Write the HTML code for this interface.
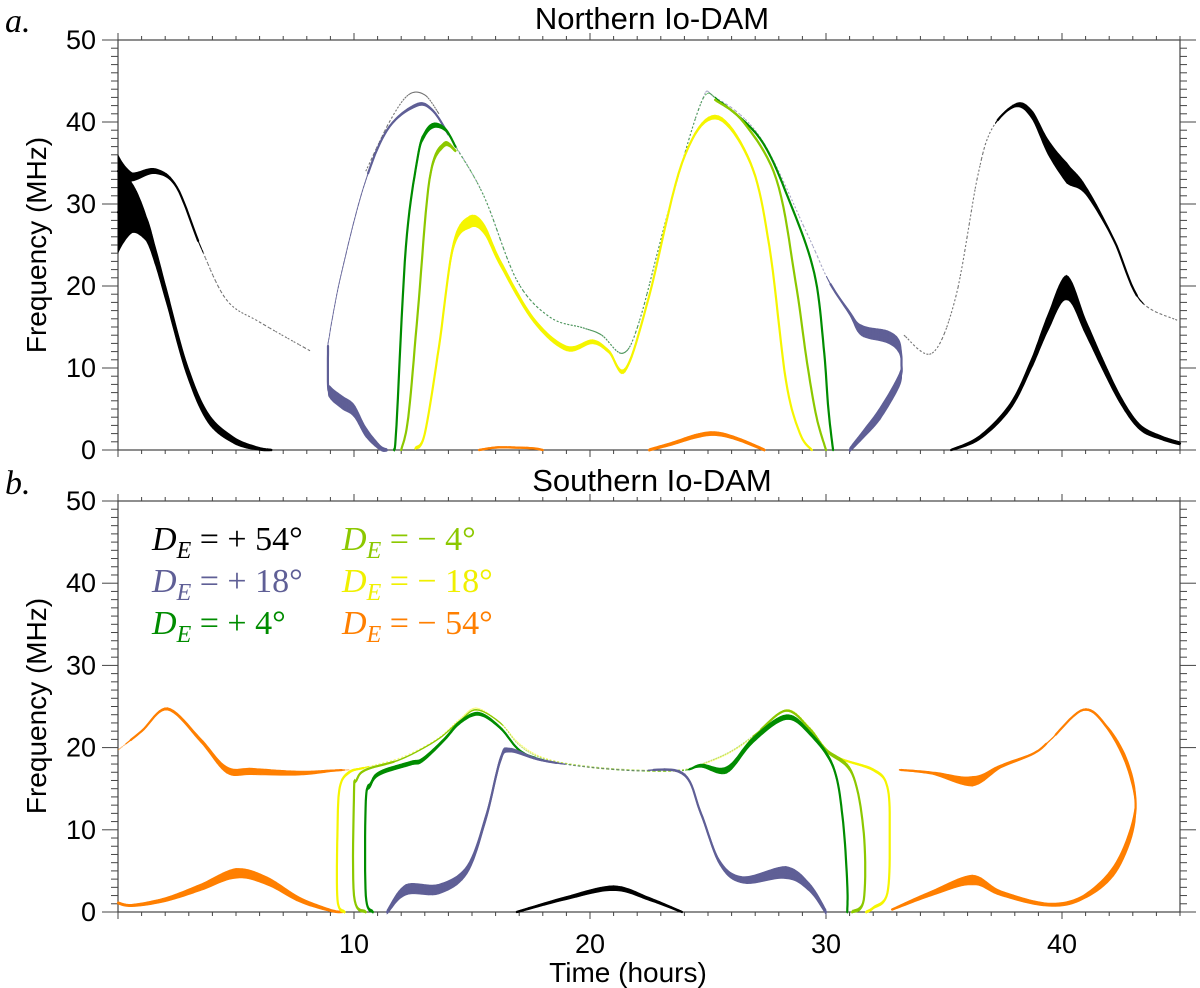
<!DOCTYPE html>
<html><head><meta charset="utf-8"><style>
html,body{margin:0;padding:0;background:#fff;}
svg{display:block;}
text{font-family:"Liberation Sans",sans-serif;}
text.lg, .lg text{font-family:"Liberation Serif",serif;font-size:34px;}
</style></head><body>
<svg id="chart" width="1200" height="988" viewBox="0 0 1200 988" xmlns="http://www.w3.org/2000/svg">
<g id="frames"></g>
<g id="marks"></g>
<g id="labels">
<text x="652" y="29" font-size="31" text-anchor="middle">Northern Io-DAM</text>
<text x="652" y="491" font-size="31" text-anchor="middle">Southern Io-DAM</text>
<text x="5" y="32" class="lg" font-style="italic">a.</text>
<text x="5" y="494" class="lg" font-style="italic">b.</text>
<text transform="translate(46,245) rotate(-90)" font-size="28" text-anchor="middle">Frequency (MHz)</text>
<text transform="translate(46,706) rotate(-90)" font-size="28" text-anchor="middle">Frequency (MHz)</text>
<text x="628" y="982" font-size="28" text-anchor="middle">Time (hours)</text>
</g>
<g id="legend" class="lg">
<text x="152" y="550" fill="#000"><tspan font-style="italic">D</tspan><tspan font-style="italic" font-size="24" dy="8">E</tspan><tspan dy="-8"> = + 54°</tspan></text>
<text x="152" y="592" fill="#5f5f96"><tspan font-style="italic">D</tspan><tspan font-style="italic" font-size="24" dy="8">E</tspan><tspan dy="-8"> = + 18°</tspan></text>
<text x="152" y="634" fill="#008c00"><tspan font-style="italic">D</tspan><tspan font-style="italic" font-size="24" dy="8">E</tspan><tspan dy="-8"> = + 4°</tspan></text>
<text x="342" y="550" fill="#8cc800"><tspan font-style="italic">D</tspan><tspan font-style="italic" font-size="24" dy="8">E</tspan><tspan dy="-8"> = − 4°</tspan></text>
<text x="342" y="592" fill="#f0f000"><tspan font-style="italic">D</tspan><tspan font-style="italic" font-size="24" dy="8">E</tspan><tspan dy="-8"> = − 18°</tspan></text>
<text x="342" y="634" fill="#ff7f00"><tspan font-style="italic">D</tspan><tspan font-style="italic" font-size="24" dy="8">E</tspan><tspan dy="-8"> = − 54°</tspan></text>
</g>
</svg>
<script>
// ---- axis setup ----
var xTicks = [10, 20, 30, 40];
var yTicks = [0, 10, 20, 30, 40, 50];
var xMin = 0, xMax = 45, yMin = 0, yMax = 50;

// ---- Northern (top) panel series: time (h), frequency (MHz), band width (MHz) ----
var nBlackUpT = [0, 0.6, 1.6, 2.5, 3.5, 4.6, 6.0, 8.2];
var nBlackUpF = [34, 33.3, 34, 32, 24.8, 18.3, 15.6, 12];
var nBlackUpW = [4, 1, 0.6, 0.3, 0.1, 0, 0, 0];
var nBlackLoT = [0, 0.6, 1.2, 1.6, 2.1, 2.9, 3.8, 4.9, 5.9, 6.5];
var nBlackLoF = [29, 29.5, 27, 23.5, 18.3, 10, 4, 1.2, 0.2, 0];
var nBlackLoW = [10, 6, 3, 2.2, 1.8, 1.5, 1.2, 0.8, 0.4, 0.2];
var nBlackDotT = [10.5, 11.5, 12.3, 13, 13.6];
var nBlackDotF = [34, 40, 43.3, 43.3, 41];
var nBlackDotW = [0, 0, 0, 0, 0];
var nBlackRT = [33.3, 34.5, 35.5, 36.4, 37.0, 38.0, 38.7, 39.4, 40.2, 41.0, 42.2, 43.3, 44.9];
var nBlackRF = [14, 11.8, 18.7, 33, 39, 42, 41, 37, 33.8, 31.7, 25.6, 18.3, 15.8];
var nBlackRW = [0, 0, 0, 0, 0, 0.4, 1, 1.8, 2.5, 1, 0.3, 0.1, 0];
var nBlackHumpT = [35.3, 36.5, 37.8, 38.7, 39.4, 40.2, 41.0, 41.7, 42.5, 43.3, 44.2, 45];
var nBlackHumpF = [0, 1.5, 5.3, 10.5, 15.5, 19.8, 15, 10.6, 6, 2.8, 1.5, 0.8];
var nBlackHumpW = [0.2, 0.5, 0.8, 1.2, 2, 3, 1.8, 1.4, 1, 0.7, 0.5, 0.4];
var nPurpleLoT = [8.9, 8.9, 9.0, 9.5, 10.0, 10.5, 11.1, 11.4];
var nPurpleLoF = [13, 8, 7, 5.8, 4.8, 2.2, 0.3, 0];
var nPurpleLoW = [0, 1, 1.5, 1.6, 1.5, 1.2, 0.6, 0.3];
var nPurpleT = [8.9, 9.4, 10.4, 11.4, 12.6, 13.3, 14.1, 15.5, 16.9, 18.3, 19.7, 20.5, 21.4, 22.1, 23.3, 24.7, 25.3, 27.2, 29.2, 30.1, 31.0, 31.5, 32.6, 33.1, 33.2, 33.1, 32.3, 31.6, 31.0];
var nPurpleF = [13, 20.7, 32, 39, 42, 41.5, 38, 31, 20.7, 16.2, 14.9, 14, 11.8, 15.8, 28.9, 42.3, 43, 38.2, 26.4, 20.7, 16.7, 14.6, 13.8, 12.6, 10.5, 8.5, 4.5, 2, 0];
var nPurpleW = [0.1, 0.1, 0.1, 0.2, 0.4, 0.3, 0.1, 0, 0, 0, 0, 0, 0, 0, 0, 0, 0, 0, 0, 0.1, 0.5, 1.3, 1.5, 1.6, 1.7, 1.6, 1.5, 1, 0.5];
var nGreenT = [11.7, 11.8, 12.2, 12.7, 13.0, 13.4, 13.9, 14.3];
var nGreenF = [0, 3, 24.8, 35.7, 38.5, 39.6, 39, 37];
var nGreenW = [0.3, 0.6, 0.8, 0.8, 0.7, 0.6, 0.4, 0.2];
var nGreenMidT = [14.3, 15.5, 16.9, 18.3, 19.7, 20.5, 21.4, 22.1, 23.3, 24.7, 25.3];
var nGreenMidF = [37, 31, 20.7, 16.2, 14.9, 14, 11.8, 15.8, 28.9, 42.3, 43];
var nGreenMidW = [0, 0, 0, 0, 0, 0, 0, 0, 0, 0, 0];
var nGreenRT = [25.3, 27.2, 28.5, 29.5, 29.9, 30.1, 30.3];
var nGreenRF = [43, 38, 30, 21.6, 12.6, 5, 0];
var nGreenRW = [0.1, 0.2, 0.3, 0.5, 0.6, 0.5, 0.3];
var nYgT = [12.0, 12.3, 12.7, 13.2, 13.8, 14.3];
var nYgF = [0, 4, 16.7, 33, 37.2, 36.5];
var nYgW = [0.2, 0.5, 0.8, 0.8, 0.6, 0.3];
var nYgRT = [25.3, 26.5, 27.9, 28.7, 29.2, 29.6, 30.0];
var nYgRF = [42.7, 40, 33, 20.7, 10.6, 4, 0];
var nYgRW = [0.2, 0.3, 0.4, 0.5, 0.5, 0.4, 0.2];
var nYellowT = [12.6, 13.0, 13.6, 14.2, 14.9, 15.5, 16.2, 17.6, 19.0, 20.1, 20.8, 21.5, 22.5, 23.9, 25.3, 26.8, 27.6, 28.3, 28.9, 29.4];
var nYellowF = [0.2, 2, 12.6, 24.8, 27.8, 27, 22.8, 15.9, 12.4, 13.2, 12, 9.8, 18.7, 35, 40.6, 35, 24.8, 8.5, 2, 0];
var nYellowW = [0.3, 0.5, 0.8, 1, 1.5, 1.2, 0.8, 0.6, 0.6, 0.5, 0.4, 0.5, 0.4, 0.3, 0.5, 0.5, 0.5, 0.4, 0.3, 0.2];
var nOrangeAT = [15.3, 16, 16.8, 17.6, 18];
var nOrangeAF = [0, 0.3, 0.3, 0.2, 0];
var nOrangeAW = [0.2, 0.2, 0.2, 0.2, 0.2];
var nOrangeBT = [22.5, 23.5, 24.5, 25.3, 26.2, 27.4];
var nOrangeBF = [0, 0.8, 1.7, 2, 1.4, 0];
var nOrangeBW = [0.3, 0.4, 0.5, 0.5, 0.4, 0.3];

// ---- Southern (bottom) panel series ----
var sOrangeAT = [0, 1, 2.1, 3.5, 4.6, 5.7, 7.7, 9.1, 9.8];
var sOrangeAF = [19.7, 22, 24.7, 20.9, 17.3, 17.1, 16.9, 17.2, 17.3];
var sOrangeAW = [0, 0.2, 0.3, 0.5, 0.8, 0.8, 0.5, 0.2, 0];
var sOrangeBT = [0, 0.6, 2, 3.5, 5, 6.3, 7.7, 9.0, 9.5];
var sOrangeBF = [1.1, 0.8, 1.5, 3, 4.7, 3.8, 1.5, 0.2, 0];
var sOrangeBW = [0.3, 0.3, 0.5, 0.8, 1.2, 1, 0.6, 0.3, 0.2];
var sOrangeCT = [32.8, 34.5, 36.2, 37.4, 39.4, 40.9, 42.3, 43.1, 42.8, 41.9, 40.9, 39.5, 38.8, 37.4, 36.2, 34.5, 33.1];
var sOrangeCF = [0.3, 2.3, 3.9, 2.3, 0.9, 1.8, 5.5, 12, 17.7, 22.5, 24.6, 20.9, 19.3, 17.7, 15.9, 16.9, 17.3];
var sOrangeCW = [0.2, 0.6, 1.2, 0.6, 0.4, 0.5, 1.3, 2, 1.2, 0.4, 0.2, 0.1, 0.2, 0.4, 1.2, 0.3, 0.1];
var sYellowT = [9.6, 9.3, 9.3, 9.4, 9.8, 10.5, 12, 13.5, 14.5, 15.2, 16.2, 17, 18, 19.7, 21.8, 23.9, 25, 26, 27, 28.3, 29.3, 30.3, 32.0, 32.6, 32.7, 32.6, 32.0, 31.7];
var sYellowF = [0, 1.5, 10, 15.2, 17, 17.6, 18.8, 21, 23.5, 24.8, 23, 20.5, 18.8, 17.7, 17.2, 17.2, 18.2, 19.5, 21.5, 24.6, 22.5, 19.1, 17.3, 15.2, 9.6, 2.3, 0.5, 0];
var sYellowW = [0.3, 0.4, 0.4, 0.4, 0.3, 0.1, 0, 0, 0, 0, 0, 0, 0, 0, 0, 0, 0, 0, 0, 0, 0, 0.1, 0.3, 0.4, 0.4, 0.4, 0.3, 0.3];
var sYgT = [10.5, 10.0, 10.0, 10.1, 10.5, 12, 13.5, 14.5, 15.2, 16.2, 17, 18, 19.7, 21.8, 23.9, 25, 26, 27, 28.3, 29.3, 30.0, 31.1, 31.6, 31.6, 31.1];
var sYgF = [0, 2, 14.5, 16, 17.3, 18.6, 20.9, 23.3, 24.6, 23, 20.3, 18.7, 17.8, 17.3, 17.3, 18.3, 19.6, 21.6, 24.5, 22.3, 19.7, 16.9, 9.6, 1.5, 0];
var sYgW = [0.3, 0.4, 0.4, 0.3, 0.2, 0.1, 0.1, 0.1, 0.1, 0.1, 0, 0, 0, 0, 0, 0, 0, 0.1, 0.2, 0.3, 0.4, 0.5, 0.5, 0.5, 0.3];
var sGreenT = [10.8, 10.5, 10.5, 10.7, 11.1, 12.4, 12.9, 13.8, 14.5, 15.3, 16.2, 17.0, 17.9, 19.7, 21.8, 23.9, 24.7, 25.8, 26.9, 28.3, 29.3, 30.3, 30.7, 30.9, 30.9];
var sGreenF = [0, 2, 13.5, 15.5, 16.9, 18.1, 18.5, 20.9, 23.1, 24.1, 22.4, 19.7, 18.6, 17.7, 17.2, 17.2, 17.8, 17.3, 20.9, 23.7, 21.8, 17.7, 11.6, 3.5, 0];
var sGreenW = [0.3, 0.5, 0.6, 0.6, 0.5, 0.5, 0.5, 0.4, 0.4, 0.4, 0.3, 0.2, 0.1, 0, 0, 0, 0.4, 0.8, 0.7, 0.6, 0.5, 0.5, 0.6, 0.6, 0.4];
var sPurpleT = [11.4, 12.2, 13.6, 14.8, 15.6, 16.2, 16.6, 17.9, 19.7, 21.8, 23.9, 24.7, 25.5, 26.5, 28.3, 29.3, 30.0];
var sPurpleF = [0, 2.7, 2.8, 5.2, 11.6, 18.5, 19.7, 18.5, 17.7, 17.2, 16.9, 12, 6, 3.9, 4.8, 3, 0];
var sPurpleW = [0.5, 1.3, 1.2, 1, 0.9, 0.8, 0.5, 0.2, 0, 0, 0.3, 0.5, 0.6, 0.8, 1.5, 1, 0.6];
var sBlackT = [16.9, 19, 21, 22.5, 23.9];
var sBlackF = [0, 1.7, 2.9, 1.6, 0];
var sBlackW = [0.2, 0.4, 0.6, 0.4, 0.2];

var NS = "http://www.w3.org/2000/svg";
var panels = [{top: 40, bottom: 450, name: "northern"}, {top: 501, bottom: 912, name: "southern"}];
var left = 118, right = 1180;
function xScale(t) { return left + (t - xMin) / (xMax - xMin) * (right - left); }
function yScaleFor(p) { return function (f) { return p.bottom - (f - yMin) / (yMax - yMin) * (p.bottom - p.top); }; }
function mk(tag, attrs, parent) {
  var e = document.createElementNS(NS, tag);
  for (var k in attrs) e.setAttribute(k, attrs[k]);
  parent.appendChild(e);
  return e;
}
var frames = document.getElementById("frames");
panels.forEach(function (p, pi) {
  var ys = yScaleFor(p);
  var g = mk("g", {}, frames);
  
  
  var r = mk("rect", {x: left, y: p.top, width: right - left, height: p.bottom - p.top, fill: "none", stroke: "#444", "stroke-width": 1.2}, g);
  
  
  for (var h = 0; h <= 45; h++) {
    var x = xScale(h), len = (h % 10 === 0) ? 7 : 4;
    mk("line", {x1: x, x2: x, y1: p.bottom, y2: p.bottom + len, stroke: "#444", "stroke-width": 1}, g);
    mk("line", {x1: x, x2: x, y1: p.top, y2: p.top - len, stroke: "#444", "stroke-width": 1}, g);
  }
  for (var f = 0; f <= 50; f++) {
    var y = ys(f), ln = (f % 10 === 0) ? 16 : 7;
    mk("line", {x1: left, x2: left - ln, y1: y, y2: y, stroke: "#444", "stroke-width": 1}, g);
    mk("line", {x1: right, x2: right + ln, y1: y, y2: y, stroke: "#444", "stroke-width": 1}, g);
  }
  yTicks.forEach(function (v) {
    var t = mk("text", {x: 96, y: ys(v) + 9, "font-size": 27, "text-anchor": "end"}, g);
    t.textContent = v;
    
    
  });
  if (pi === 1) {
    xTicks.forEach(function (v) {
      var t = mk("text", {x: xScale(v), y: 953, "font-size": 27, "text-anchor": "middle"}, g);
      t.textContent = v;
      
      
    });
  }
});

var marks = document.getElementById("marks");
function drawSeries(panelIdx, T, F, W, color, name) {
  var ys = yScaleFor(panels[panelIdx]);
  var g = mk("g", {}, marks);
  
  
  var n = T.length;
  function pt(i) { i = Math.max(0, Math.min(n - 1, i)); return [xScale(T[i]), ys(F[i]), W[i]]; }
  var steps = 10, pts = [];
  for (var i = 0; i < n - 1; i++) {
    var p0 = pt(i - 1), p1 = pt(i), p2 = pt(i + 1), p3 = pt(i + 2);
    for (var s = (i === 0 ? 0 : 1); s <= steps; s++) {
      var u = s / steps, u2 = u * u, u3 = u2 * u, c = [];
      for (var k = 0; k < 2; k++) {
        c[k] = 0.5 * ((2 * p1[k]) + (-p0[k] + p2[k]) * u + (2 * p0[k] - 5 * p1[k] + 4 * p2[k] - p3[k]) * u2 + (-p0[k] + 3 * p1[k] - 3 * p2[k] + p3[k]) * u3);
      }
      c[2] = (p1[2] + (p2[2] - p1[2]) * u) * 8.2;
      pts.push(c);
    }
  }
  // band quads (vertical spread)
  var d = "";
  for (var j = 0; j < pts.length - 1; j++) {
    var a = pts[j], b = pts[j + 1];
    if (a[2] < 0.8 && b[2] < 0.8) continue;
    d += "M" + a[0].toFixed(1) + "," + (a[1] - a[2] / 2).toFixed(1) + "L" + b[0].toFixed(1) + "," + (b[1] - b[2] / 2).toFixed(1) +
         "L" + b[0].toFixed(1) + "," + (b[1] + b[2] / 2).toFixed(1) + "L" + a[0].toFixed(1) + "," + (a[1] + a[2] / 2).toFixed(1) + "Z";
  }
  if (d) mk("path", {d: d, fill: color, stroke: color, "stroke-width": 0.6}, g);
  // centre line: solid where band exists, faint where thin
  var solid = "", faint = "";
  for (var m = 0; m < pts.length - 1; m++) {
    var A = pts[m], B = pts[m + 1];
    var seg = "M" + A[0].toFixed(1) + "," + A[1].toFixed(1) + "L" + B[0].toFixed(1) + "," + B[1].toFixed(1);
    if ((A[2] + B[2]) / 2 < 1.0) faint += seg; else solid += seg;
  }
  if (solid) mk("path", {d: solid, fill: "none", stroke: color, "stroke-width": 2.2, "stroke-linecap": "round"}, g);
  if (faint) mk("path", {d: faint, fill: "none", stroke: color, "stroke-width": 1.1, "stroke-opacity": 0.55, "stroke-dasharray": "2 2"}, g);
}
var BLACK = "#000", PURPLE = "#5f5f96", GREEN = "#008c00", YG = "#8cc800", YEL = "#f5f500", ORA = "#ff7f00";
drawSeries(0, nBlackUpT, nBlackUpF, nBlackUpW, BLACK, "north-plus54-upper");
drawSeries(0, nBlackLoT, nBlackLoF, nBlackLoW, BLACK, "north-plus54-lower");
drawSeries(0, nBlackDotT, nBlackDotF, nBlackDotW, BLACK, "north-plus54-dots");
drawSeries(0, nBlackRT, nBlackRF, nBlackRW, BLACK, "north-plus54-right");
drawSeries(0, nBlackHumpT, nBlackHumpF, nBlackHumpW, BLACK, "north-plus54-hump");
drawSeries(0, nPurpleT, nPurpleF, nPurpleW, PURPLE, "north-plus18");
drawSeries(0, nPurpleLoT, nPurpleLoF, nPurpleLoW, PURPLE, "north-plus18-lower");
drawSeries(0, nGreenMidT, nGreenMidF, nGreenMidW, GREEN, "north-plus4-mid");
drawSeries(0, nGreenT, nGreenF, nGreenW, GREEN, "north-plus4-left");
drawSeries(0, nGreenRT, nGreenRF, nGreenRW, GREEN, "north-plus4-right");
drawSeries(0, nYgT, nYgF, nYgW, YG, "north-minus4-left");
drawSeries(0, nYgRT, nYgRF, nYgRW, YG, "north-minus4-right");
drawSeries(0, nYellowT, nYellowF, nYellowW, YEL, "north-minus18");
drawSeries(0, nOrangeAT, nOrangeAF, nOrangeAW, ORA, "north-minus54-a");
drawSeries(0, nOrangeBT, nOrangeBF, nOrangeBW, ORA, "north-minus54-b");

drawSeries(1, sOrangeAT, sOrangeAF, sOrangeAW, ORA, "south-minus54-upper");
drawSeries(1, sOrangeBT, sOrangeBF, sOrangeBW, ORA, "south-minus54-lower");
drawSeries(1, sOrangeCT, sOrangeCF, sOrangeCW, ORA, "south-minus54-loop");
drawSeries(1, sYellowT, sYellowF, sYellowW, YEL, "south-minus18");
drawSeries(1, sYgT, sYgF, sYgW, YG, "south-minus4");
drawSeries(1, sGreenT, sGreenF, sGreenW, GREEN, "south-plus4");
drawSeries(1, sPurpleT, sPurpleF, sPurpleW, PURPLE, "south-plus18");
drawSeries(1, sBlackT, sBlackF, sBlackW, BLACK, "south-plus54");
</script>
</body></html>
